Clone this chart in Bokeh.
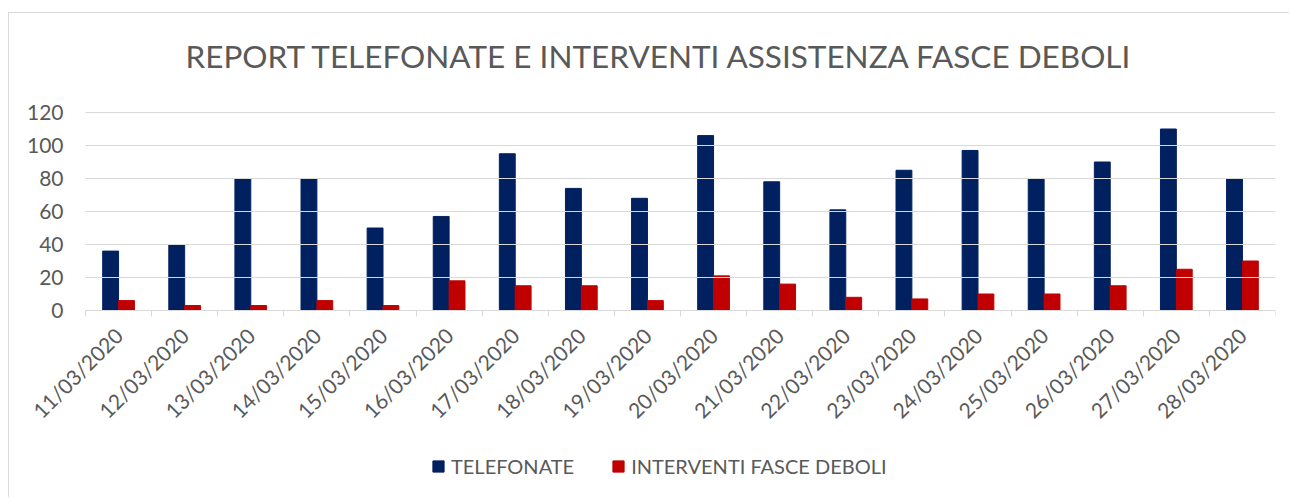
from bokeh.plotting import figure
from bokeh.models import (ColumnDataSource, Range1d, LinearAxis,
                          FixedTicker, Legend, LegendItem, Title)
from bokeh.transform import dodge
from bokeh.embed import file_html
from bokeh.resources import INLINE

dates = ["11/03/2020", "12/03/2020", "13/03/2020", "14/03/2020", "15/03/2020", "16/03/2020",
         "17/03/2020", "18/03/2020", "19/03/2020", "20/03/2020", "21/03/2020", "22/03/2020",
         "23/03/2020", "24/03/2020", "25/03/2020", "26/03/2020", "27/03/2020", "28/03/2020"]
telefonate = [36, 40, 80, 80, 50, 57, 95, 74, 68, 106, 78, 61, 85, 97, 80, 90, 110, 80]
interventi = [6, 3, 3, 6, 3, 18, 15, 15, 6, 21, 16, 8, 7, 10, 10, 15, 25, 30]
y_ticks = [0, 20, 40, 60, 80, 100, 120]
title_text = "REPORT TELEFONATE E INTERVENTI ASSISTENZA FASCE DEBOLI"
series_names = ["TELEFONATE", "INTERVENTI FASCE DEBOLI"]

BLUE = "#002060"
RED = "#C00000"
TXT = "#595959"
GRID = "#d9d9d9"
FONT = "Lato"

n = len(dates)
idx = list(range(n))

# layout in pixels inside the figure
FIG_W, FIG_H = 1281, 485
TOP = 81            # frame top edge
Y_TOPTICK = 99      # pixel of the highest tick (120)
ZERO_Y = 297        # pixel of value 0
LEFT_PAD = 11       # frame left edge
PLOT_L, PLOT_R = 76, 1266   # plot area left/right
px_unit = (ZERO_Y - Y_TOPTICK) / y_ticks[-1]
y_max = y_ticks[-1] + (Y_TOPTICK - TOP) / px_unit
y_min = -(FIG_H - ZERO_Y) / px_unit
px_cat = (PLOT_R - PLOT_L) / n
x_start = -0.5 - (PLOT_L - LEFT_PAD) / px_cat
x_end = n - 0.5

src = ColumnDataSource(dict(x=idx, d=dates, t=telefonate, i=interventi))

p = figure(width=FIG_W, height=FIG_H, x_range=Range1d(x_start, x_end),
           y_range=Range1d(y_min, y_max), output_backend="svg", toolbar_location=None,
           x_axis_location=None, min_border_left=LEFT_PAD, min_border_right=FIG_W - PLOT_R,
           min_border_top=TOP, min_border_bottom=0,
           margin=(12, 0, 0, 8),
           styles={"border-left": "1px solid #d9d9d9", "border-top": "1px solid #d9d9d9"})
p.outline_line_color = None
p.background_fill_color = "white"
p.border_fill_color = "white"

# title
p.title = Title(text=title_text, align="left", text_font=FONT, text_font_size="31.5px",
                text_color=TXT, text_font_style="normal", offset=185 - 9 - LEFT_PAD)
p.title.standoff = 40

# bars
r1 = p.vbar(x=dodge("x", -0.12), top="t", width=0.24, source=src,
            fill_color=BLUE, line_color=BLUE)
r2 = p.vbar(x=dodge("x", 0.12), top="i", width=0.24, source=src,
            fill_color=RED, line_color=RED)

# y axis fixed at the left edge of the plot area; its inward ticks form the gridlines
yax = p.yaxis[0]
yax.ticker = FixedTicker(ticks=y_ticks)
yax.fixed_location = -0.5
yax.bounds = (y_ticks[0], y_ticks[-1])
yax.axis_line_color = None
yax.major_tick_line_color = GRID
yax.major_tick_line_width = 1
yax.minor_tick_line_color = None
yax.major_tick_out = 0
yax.major_tick_in = PLOT_R - PLOT_L
yax.major_label_standoff = 22
yax.major_label_text_font = FONT
yax.major_label_text_font_size = "21px"
yax.major_label_text_color = TXT

p.ygrid.grid_line_color = None
p.xgrid.grid_line_color = None

# x axis fixed at value 0: labels at category centres, ticks at category boundaries
xax = LinearAxis(ticker=FixedTicker(ticks=idx, minor_ticks=[k - 0.5 for k in range(n + 1)]),
                 major_label_overrides={k: d for k, d in zip(idx, dates)},
                 fixed_location=0, bounds=(-0.5, n - 0.5),
                 axis_line_color=GRID, major_tick_line_color=None,
                 minor_tick_line_color=GRID, minor_tick_out=6, minor_tick_in=0,
                 major_tick_out=6, major_tick_in=0,
                 major_label_orientation=0.785398, major_label_standoff=15,
                 major_label_text_font=FONT, major_label_text_font_size="21px",
                 major_label_text_color=TXT)
p.add_layout(xax, "below")

legend = Legend(items=[LegendItem(label=series_names[0], renderers=[r1]),
                       LegendItem(label=series_names[1], renderers=[r2])],
                orientation="horizontal", location=(431 - 9 - LEFT_PAD, 20),
                glyph_width=14, glyph_height=14, label_standoff=6, spacing=37,
                label_text_font=FONT, label_text_font_size="20px", label_text_color=TXT,
                border_line_color=None, background_fill_alpha=0, padding=0, margin=0)
p.add_layout(legend, "center")

open("out.html", "w").write(file_html(p, INLINE))
